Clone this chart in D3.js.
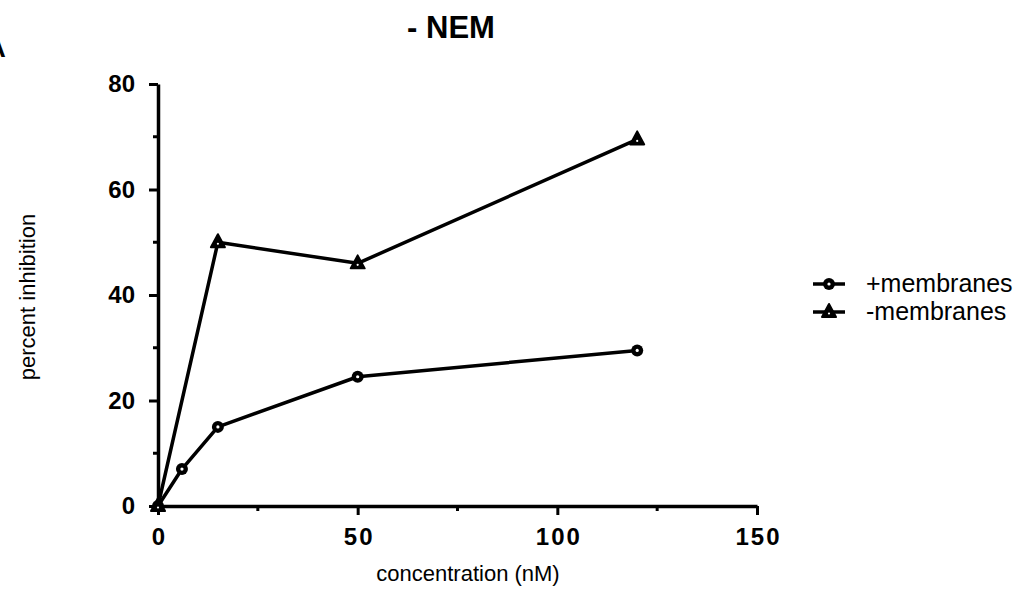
<!DOCTYPE html>
<html>
<head>
<meta charset="utf-8">
<script src="https://cdn.jsdelivr.net/npm/d3@7"></script>
<style>
  body { margin: 0; background: #fff; }
  svg { display: block; font-family: "Liberation Sans", Arial, sans-serif; }
</style>
</head>
<body>
<div id="chart"></div>
<script>
// Data
const seriesNames = ['+membranes', '-membranes'];
const plusConc = [0, 6, 15, 50, 120];
const plusInhib = [0, 7, 15, 24.5, 29.5];
const minusConc = [0, 15, 50, 120];
const minusInhib = [0, 50, 46, 69.5];
const xTicks = [0, 50, 100, 150];
const xMinor = [25, 75, 125];
const yTicks = [0, 20, 40, 60, 80];
const yMinor = [10, 30, 50, 70];

const width = 1018, height = 594;
const margin = {top: 84, left: 158, right: 1018 - 757, bottom: 594 - 506};

const svg = d3.select('#chart').append('svg')
    .attr('width', width)
    .attr('height', height);

const x = d3.scaleLinear().domain([0, 150]).range([margin.left, width - margin.right]);
const y = d3.scaleLinear().domain([0, 80]).range([height - margin.bottom, margin.top]);

// Panel letter, cut off at the left edge as in the scan
svg.append('text')
    .attr('x', -13).attr('y', 57)
    .style('font-size', '26px').style('font-weight', 'bold')
    .text('A');

// Title
svg.append('text')
    .attr('x', 451).attr('y', 38)
    .attr('text-anchor', 'middle')
    .style('font-size', '31px').style('font-weight', 'bold')
    .text('- NEM');

// X axis
const xAxis = svg.append('g')
    .attr('transform', `translate(0,${y(0)})`)
    .call(d3.axisBottom(x).tickValues(xTicks).tickSize(9).tickSizeOuter(0).tickFormat(d3.format('d')));
xAxis.select('.domain').attr('stroke-width', 3.5);
xAxis.selectAll('.tick line').attr('stroke-width', 3);
xAxis.selectAll('.tick text')
    .attr('dy', 0).attr('y', 39).attr('dx', 1)
    .style('font-size', '24px').style('font-weight', 'bold')
    .style('letter-spacing', '2px');
svg.append('g').selectAll('line')
    .data(xMinor)
    .join('line')
    .attr('x1', d => x(d)).attr('x2', d => x(d))
    .attr('y1', y(0)).attr('y2', y(0) + 5)
    .attr('stroke', '#000').attr('stroke-width', 3);

// Y axis
const yAxis = svg.append('g')
    .attr('transform', `translate(${x(0)},0)`)
    .call(d3.axisLeft(y).tickValues(yTicks).tickSize(9).tickSizeOuter(0));
yAxis.select('.domain').attr('stroke-width', 3.5);
yAxis.selectAll('.tick line').attr('stroke-width', 3);
yAxis.selectAll('.tick text')
    .attr('x', -23)
    .style('font-size', '24px').style('font-weight', 'bold');
svg.append('g').selectAll('line')
    .data(yMinor)
    .join('line')
    .attr('x1', x(0) - 5).attr('x2', x(0))
    .attr('y1', d => y(d)).attr('y2', d => y(d))
    .attr('stroke', '#000').attr('stroke-width', 3);

// Axis titles
svg.append('text')
    .attr('x', 468).attr('y', 581)
    .attr('text-anchor', 'middle')
    .style('font-size', '22px')
    .text('concentration (nM)');
svg.append('text')
    .attr('transform', `translate(35,297) rotate(-90)`)
    .attr('text-anchor', 'middle')
    .style('font-size', '22px')
    .text('percent inhibition');

const line = d3.line().x(d => x(d[0])).y(d => y(d[1]));
const plusData = plusConc.map((c, i) => [c, plusInhib[i]]);
const minusData = minusConc.map((c, i) => [c, minusInhib[i]]);

// Lines
[plusData, minusData].forEach(data => {
    svg.append('path')
        .datum(data)
        .attr('d', line)
        .attr('fill', 'none')
        .attr('stroke', '#000')
        .attr('stroke-width', 3.5)
        .attr('stroke-linejoin', 'round');
});

// Markers
function circleMarker(g, cx, cy) {
    g.append('circle').attr('cx', cx).attr('cy', cy).attr('r', 6)
        .attr('fill', '#000');
    g.append('circle').attr('cx', cx).attr('cy', cy).attr('r', 1.6)
        .attr('fill', '#fff');
}
function triangleMarker(g, cx, cy) {
    g.append('path')
        .attr('d', `M${cx},${cy - 8} L${cx + 7},${cy + 5} L${cx - 7},${cy + 5} Z`)
        .attr('fill', '#000').attr('stroke', '#000').attr('stroke-width', 2)
        .attr('stroke-linejoin', 'round');
    g.append('circle').attr('cx', cx).attr('cy', cy + 1.5).attr('r', 1.1)
        .attr('fill', '#fff');
}
const marks = svg.append('g');
plusData.forEach(d => circleMarker(marks, x(d[0]), y(d[1])));
minusData.forEach(d => triangleMarker(marks, x(d[0]), y(d[1])));

// Legend
const legend = svg.append('g').attr('transform', 'translate(813,284)');
seriesNames.forEach((name, i) => {
    const row = legend.append('g').attr('transform', `translate(0,${i * 28})`);
    row.append('line')
        .attr('x1', 0).attr('x2', 32).attr('y1', 0).attr('y2', 0)
        .attr('stroke', '#000').attr('stroke-width', 3.5);
    if (i === 0) circleMarker(row, 16, 0);
    else triangleMarker(row, 16, 0);
    row.append('text')
        .attr('x', 53).attr('y', 8)
        .style('font-size', '25px')
        .text(name);
});
</script>
</body>
</html>
